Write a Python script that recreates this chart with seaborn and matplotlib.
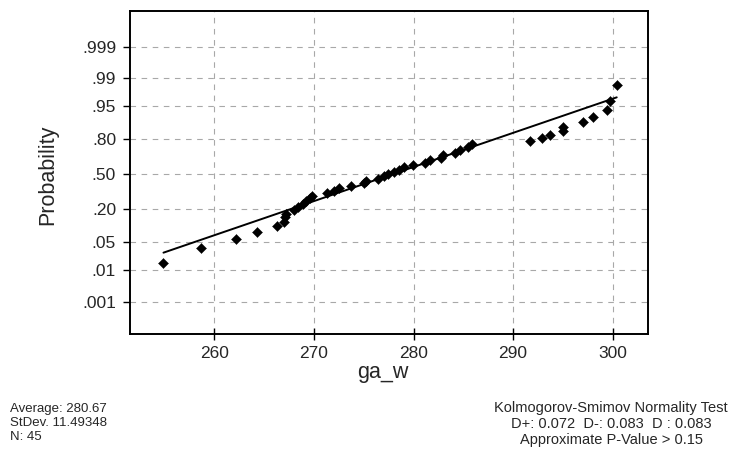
from statistics import NormalDist

import matplotlib
matplotlib.use("Agg")
import matplotlib.pyplot as plt
import numpy as np
import pandas as pd
import seaborn as sns

# Sorted sample of ga_w (n = 45)
ga_w = [
    254.9, 258.7, 262.2, 264.3, 266.3, 267.0, 267.1, 267.2,
    268.0, 268.4, 268.9, 269.2, 269.6, 269.8,
    271.3, 272.0, 272.5, 273.7, 275.0, 275.2, 276.4, 277.0, 277.4, 278.0, 278.5,
    279.0, 279.9, 281.2, 281.7, 282.8, 283.0, 284.2, 284.7, 285.5, 285.9,
    291.7, 292.9, 293.7, 295.0, 295.0, 297.0, 298.0, 299.4, 299.7, 300.4,
]

# Fitted normal reference line
line_mean = 277.9
line_sd = 12.1

# Probability axis ticks
prob_ticks = [0.001, 0.01, 0.05, 0.20, 0.50, 0.80, 0.95, 0.99, 0.999]
prob_labels = [".001", ".01", ".05", ".20", ".50", ".80", ".95", ".99", ".999"]
x_ticks = [260, 270, 280, 290, 300]

# Summary text
stats_left = ["Average: 280.67", "StDev. 11.49348", "N: 45"]
stats_right = [
    "Kolmogorov-Smimov Normality Test",
    "D+: 0.072  D-: 0.083  D : 0.083",
    "Approximate P-Value > 0.15",
]

nd = NormalDist()
n = len(ga_w)
x_sorted = np.sort(np.array(ga_w))
# Median-rank plotting positions on the normal quantile scale
plot_pos = [(i - 0.3) / (n + 0.4) for i in range(1, n + 1)]
df = pd.DataFrame({"ga_w": x_sorted, "z": [nd.inv_cdf(p) for p in plot_pos]})

x_ends = [x_sorted.min(), x_sorted.max()]
line_df = pd.DataFrame({"x": x_ends, "z": [(v - line_mean) / line_sd for v in x_ends]})

sns.set_style("white")
plt.rcParams["font.family"] = ["Liberation Sans", "DejaVu Sans"]

fig = plt.figure(figsize=(7.31, 4.49), dpi=100)
ax = fig.add_axes([130 / 731, 1 - 334 / 449, 518 / 731, 323 / 449])

sns.lineplot(data=line_df, x="x", y="z", ax=ax, color="black", lw=1.4)
sns.scatterplot(data=df, x="ga_w", y="z", ax=ax, marker="D", s=26,
                color="black", edgecolor="black", linewidth=0.3, zorder=3)

ax.set_xlim(251.54, 303.54)
ax.set_ylim(-3.87, 3.95)
ax.set_xticks(x_ticks)
ax.set_xticklabels([str(t) for t in x_ticks])
ax.set_yticks([nd.inv_cdf(p) for p in prob_ticks])
ax.set_yticklabels(prob_labels)

ax.grid(True, color="#a8a8a8", linestyle=(0, (5, 5)), linewidth=0.8)
ax.set_axisbelow(True)
for sp in ax.spines.values():
    sp.set_color("black")
    sp.set_linewidth(1.4)

ax.tick_params(axis="y", direction="out", length=5, width=1, color="black",
               labelsize=12.5, pad=5)
ax.tick_params(axis="x", direction="inout", length=8, width=1, color="black",
               labelsize=12.5, pad=5)
ax.tick_params(left=True, bottom=True)

ax.set_xlabel("ga_w", fontsize=15.5)
ax.xaxis.set_label_coords((383 - 130) / 518, -(362 - 334) / 323)
ax.set_ylabel("Probability", fontsize=15.5)
ax.yaxis.set_label_coords(-(130 - 58) / 518, (334 - 175) / 323)

for k, t in enumerate(stats_left):
    fig.text(10 / 731, 1 - (409 + 14 * k) / 449, t, fontsize=9.5,
             ha="left", va="center")
for k, t in enumerate(stats_right):
    fig.text(611 / 731, 1 - (408 + 16 * k) / 449, t, fontsize=10.5,
             ha="center", va="center")

fig.savefig("out.png", dpi=100)
